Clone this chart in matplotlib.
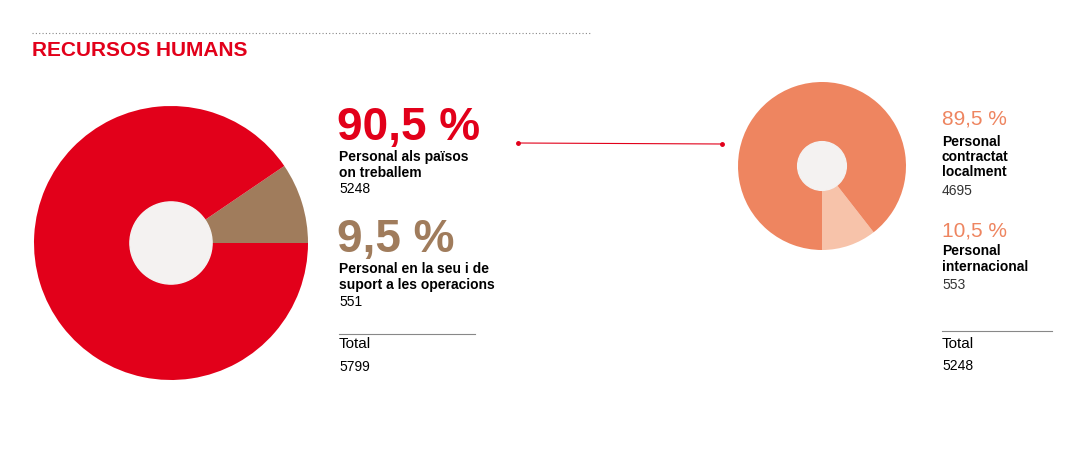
import matplotlib
matplotlib.use("Agg")
import matplotlib.pyplot as plt
from matplotlib.lines import Line2D

plt.rcParams['font.family'] = ['Liberation Sans', 'DejaVu Sans']

left_labels = ["Personal en la seu i de\nsuport a les operacions", "Personal als països\non treballem"]
left_values = [551, 5248]
left_pct = ["9,5 %", "90,5 %"]
right_labels = ["Personal\ninternacional", "Personal\ncontractat\nlocalment"]
right_values = [553, 4695]
right_pct = ["10,5 %", "89,5 %"]

RED = "#e2001a"; BROWN = "#a07c5c"; ORANGE = "#ee8560"; LIGHT = "#f7c3aa"; HOLE = "#f4f2f1"
W, H = 1090, 459
fig = plt.figure(figsize=(W/100, H/100), dpi=100)

def ax_px(l, t, s):
    return fig.add_axes([l/W, 1-(t+s)/H, s/W, s/H])

ax1 = ax_px(34, 106, 274)
ax1.pie(left_values, colors=[BROWN, RED], startangle=0, counterclock=True,
        wedgeprops=dict(linewidth=0))
ax1.add_patch(plt.Circle((0, 0), 0.3, color=HOLE))
ax1.set_xlim(-1, 1); ax1.set_ylim(-1, 1)
ax1.set_aspect('equal')

ax2 = ax_px(738, 82, 168)
ax2.pie(right_values, colors=[LIGHT, ORANGE], startangle=270, counterclock=True,
        wedgeprops=dict(linewidth=0))
ax2.add_patch(plt.Circle((0, 0), 0.29, color=HOLE))
ax2.set_xlim(-1, 1); ax2.set_ylim(-1, 1)
ax2.set_aspect('equal')

def T(x, y, s, **kw):
    fig.text(x/W, 1-y/H, s, **kw)

fig.add_artist(Line2D([32/W, 592/W], [1-33/H]*2, color="#888888", lw=0.8, ls=(0, (1, 2))))
T(32, 50, "RECURSOS HUMANS", color=RED, fontsize=15, fontweight='bold', va='center')

T(337, 128, left_pct[1], color=RED, fontsize=33, fontweight='bold', va='center')
T(339, 165, left_labels[1], fontsize=10, fontweight='bold', va='center', linespacing=1.1)
T(339, 189, str(left_values[1]), fontsize=10, va='center')
T(337, 240, left_pct[0], color=BROWN, fontsize=33, fontweight='bold', va='center')
T(339, 277, left_labels[0], fontsize=10, fontweight='bold', va='center', linespacing=1.1)
T(339, 302, str(left_values[0]), fontsize=10, va='center')
fig.add_artist(Line2D([339/W, 475/W], [1-334/H]*2, color="#888888", lw=0.8))
T(339, 344, "Total", fontsize=11, va='center')
T(339, 367, str(sum(left_values)), fontsize=10, va='center')

fig.add_artist(Line2D([518/W, 722/W], [1-143/H, 1-144/H], color=RED, lw=0.8,
                      marker='o', markersize=2.5, markevery=[0, 1]))

T(942, 119, right_pct[1], color=ORANGE, fontsize=15, va='center')
T(942, 157, right_labels[1], fontsize=10, fontweight='bold', va='center', linespacing=1.1)
T(942, 191, str(right_values[1]), fontsize=10, va='center', color="#333333")
T(942, 231, right_pct[0], color=ORANGE, fontsize=15, va='center')
T(942, 259, right_labels[0], fontsize=10, fontweight='bold', va='center', linespacing=1.1)
T(942, 285, str(right_values[0]), fontsize=10, va='center', color="#333333")
fig.add_artist(Line2D([942/W, 1052/W], [1-331/H]*2, color="#888888", lw=0.8))
T(942, 344, "Total", fontsize=11, va='center')
T(942, 366, str(sum(right_values)), fontsize=10, va='center')

fig.savefig("out.png", dpi=100, facecolor="white")
